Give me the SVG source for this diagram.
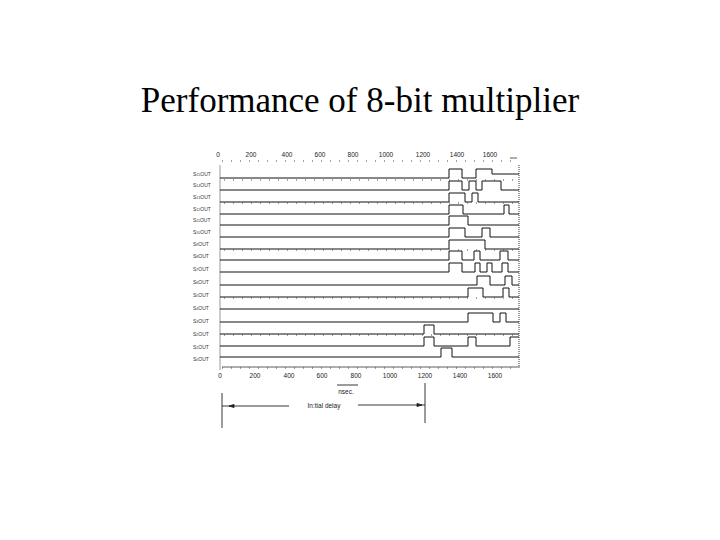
<svg xmlns="http://www.w3.org/2000/svg" width="720" height="540" viewBox="0 0 720 540">
<style>
.t{font-family:"Liberation Serif",serif;font-size:35px;fill:#000}
.ax{font-family:"Liberation Sans",sans-serif;font-size:6.5px;fill:#222}
.lb{font-family:"Liberation Sans",sans-serif;font-size:5px;fill:#333}
.w{fill:none;stroke:#111;stroke-width:1}
.tk{stroke:#444;stroke-width:1.2;stroke-dasharray:1 8}
</style>
<rect width="720" height="540" fill="#fff"/>
<text class="t" x="360" y="112" text-anchor="middle">Performance of 8-bit multiplier</text>
<g id="axes">
<line class="tk" x1="222" y1="161" x2="518" y2="161"/>
<line class="tk" x1="222" y1="368" x2="518" y2="368"/>
<line x1="222" y1="367" x2="520" y2="367" stroke="#333" stroke-width="0.8"/>
<line x1="220" y1="165" x2="220" y2="370" stroke="#555" stroke-width="0.6"/>
<line x1="519" y1="165" x2="519" y2="367" stroke="#555" stroke-width="1.2" stroke-dasharray="1 1"/>
<line x1="510" y1="158" x2="517" y2="158" stroke="#333" stroke-width="0.8"/>
<text class="ax" x="218" y="157" text-anchor="middle">0</text>
<text class="ax" x="251" y="157" text-anchor="middle">200</text>
<text class="ax" x="287" y="157" text-anchor="middle">400</text>
<text class="ax" x="320" y="157" text-anchor="middle">600</text>
<text class="ax" x="353" y="157" text-anchor="middle">800</text>
<text class="ax" x="386" y="157" text-anchor="middle">1000</text>
<text class="ax" x="423" y="157" text-anchor="middle">1200</text>
<text class="ax" x="457" y="157" text-anchor="middle">1400</text>
<text class="ax" x="490" y="157" text-anchor="middle">1600</text>
<text class="ax" x="220" y="378" text-anchor="middle">0</text>
<text class="ax" x="255" y="378" text-anchor="middle">200</text>
<text class="ax" x="289" y="378" text-anchor="middle">400</text>
<text class="ax" x="322" y="378" text-anchor="middle">600</text>
<text class="ax" x="356" y="378" text-anchor="middle">800</text>
<text class="ax" x="390" y="378" text-anchor="middle">1000</text>
<text class="ax" x="425" y="378" text-anchor="middle">1200</text>
<text class="ax" x="460" y="378" text-anchor="middle">1400</text>
<text class="ax" x="495" y="378" text-anchor="middle">1600</text>
</g>
<g id="labels">
<text class="lb" x="193" y="176">S<tspan font-size="3.5">15</tspan>OUT</text>
<text class="lb" x="193" y="187">S<tspan font-size="3.5">14</tspan>OUT</text>
<text class="lb" x="193" y="199">S<tspan font-size="3.5">13</tspan>OUT</text>
<text class="lb" x="193" y="211">S<tspan font-size="3.5">12</tspan>OUT</text>
<text class="lb" x="193" y="222">S<tspan font-size="3.5">11</tspan>OUT</text>
<text class="lb" x="193" y="234">S<tspan font-size="3.5">10</tspan>OUT</text>
<text class="lb" x="193" y="246">S<tspan font-size="3.5">9</tspan>OUT</text>
<text class="lb" x="193" y="258">S<tspan font-size="3.5">8</tspan>OUT</text>
<text class="lb" x="193" y="271">S<tspan font-size="3.5">7</tspan>OUT</text>
<text class="lb" x="193" y="284">S<tspan font-size="3.5">6</tspan>OUT</text>
<text class="lb" x="193" y="297">S<tspan font-size="3.5">5</tspan>OUT</text>
<text class="lb" x="193" y="310">S<tspan font-size="3.5">4</tspan>OUT</text>
<text class="lb" x="193" y="323">S<tspan font-size="3.5">3</tspan>OUT</text>
<text class="lb" x="193" y="336">S<tspan font-size="3.5">2</tspan>OUT</text>
<text class="lb" x="193" y="349">S<tspan font-size="3.5">1</tspan>OUT</text>
<text class="lb" x="193" y="361">S<tspan font-size="3.5">0</tspan>OUT</text>
</g>
<g id="waves">
<path class="w" d="M220 178H449V169H462V178H476V169H492V174H519"/>
<path class="w" d="M220 190H449V181H462V190H469V181H476V190H482V181H501V190H519"/>
<path class="w" d="M220 202H449V193H465V202H472V193H478V202H519"/>
<path class="w" d="M220 214H449V205H463V214H504V205H509V214H519"/>
<path class="w" d="M220 225H449V216H468V225H519"/>
<path class="w" d="M220 237H449V228H465V237H482V228H490V237H519"/>
<path class="w" d="M220 249H449V240H485V249H519"/>
<path class="w" d="M220 260H449V251H462V260H474V251H480V260H500V251H508V260H519"/>
<path class="w" d="M220 272H449V263H462V272H475V263H480V272H487V263H492V272H502V263H508V272H519"/>
<path class="w" d="M220 285H477V276H490V285H505V276H512V285H519"/>
<path class="w" d="M220 297H468V288H483V297H503V288H509V297H519"/>
<path class="w" d="M220 309H519"/>
<path class="w" d="M220 322H468V313H493V322H500V313H506V322H519"/>
<path class="w" d="M220 334H424V325H434V334H519"/>
<path class="w" d="M220 346H424V337H434V346H468V337H476V346H510V337H519"/>
<path class="w" d="M220 357H441V348H452V357H519"/>
<line class="tk" x1="224" y1="180" x2="518" y2="180"/>
<line class="tk" x1="224" y1="203" x2="518" y2="203"/>
<line class="tk" x1="224" y1="250" x2="518" y2="250"/>
<line class="tk" x1="224" y1="298" x2="518" y2="298"/>
<line class="tk" x1="224" y1="335" x2="518" y2="335"/>
</g>
<g id="connectors" stroke="#222" stroke-width="0.9" fill="none">
<line x1="222" y1="393" x2="222" y2="428"/>
<line x1="425" y1="383" x2="425" y2="423"/>
<line x1="222" y1="406" x2="289" y2="406"/>
<line x1="358" y1="405" x2="425" y2="405"/>
<path d="M229 406l5-1.5v3z" fill="#222"/>
<path d="M422 405l-5-1.5v3z" fill="#222"/>
<line x1="337" y1="385" x2="358" y2="385"/>
</g>
<text class="ax" x="324" y="408" text-anchor="middle" font-size="6">In:tial delay</text>
<text class="ax" x="346" y="394" text-anchor="middle" font-size="6">nsec.</text>
</svg>
